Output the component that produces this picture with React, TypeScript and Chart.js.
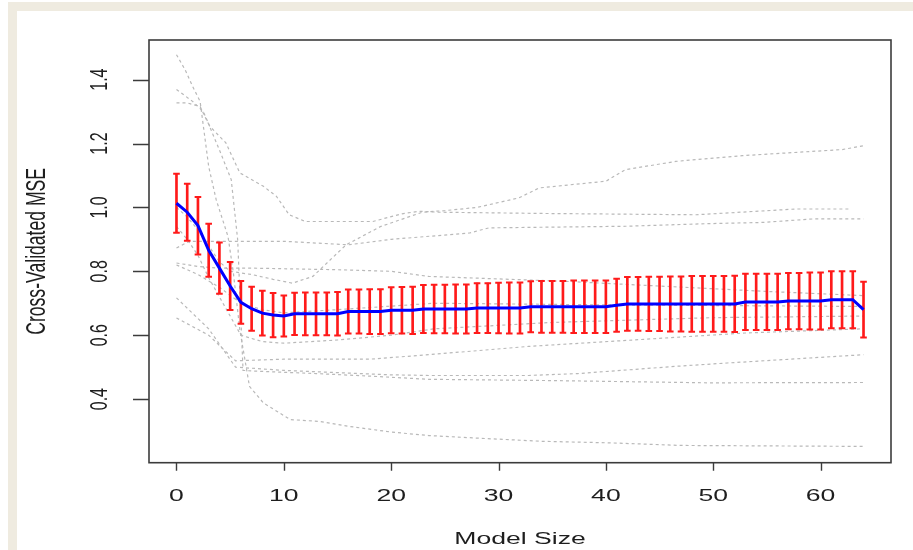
import React, { useEffect, useRef } from 'react';
import { Chart, registerables } from 'chart.js';

Chart.register(...registerables);

// Mean cross-validated MSE for model sizes 0..64
const MEAN_MSE = [
  1.013, 0.985, 0.943, 0.866, 0.81, 0.754, 0.703, 0.683, 0.669, 0.663,
  0.66, 0.667, 0.667, 0.667, 0.667, 0.667, 0.674, 0.674, 0.674, 0.674,
  0.678, 0.678, 0.678, 0.682, 0.682, 0.682, 0.682, 0.682, 0.685, 0.685,
  0.685, 0.685, 0.685, 0.689, 0.689, 0.689, 0.689, 0.689, 0.689, 0.689,
  0.689, 0.694, 0.698, 0.698, 0.698, 0.698, 0.698, 0.698, 0.698, 0.698,
  0.698, 0.698, 0.698, 0.704, 0.704, 0.704, 0.704, 0.707, 0.707, 0.707,
  0.707, 0.711, 0.711, 0.711, 0.68,
];

// Standard error of the mean (half-length of each error bar)
const STD_ERR = [
  0.092, 0.089, 0.09, 0.083, 0.08, 0.075, 0.067, 0.069, 0.07, 0.069,
  0.064, 0.066, 0.067, 0.067, 0.067, 0.068, 0.069, 0.069, 0.07, 0.07,
  0.072, 0.073, 0.074, 0.075, 0.076, 0.076, 0.077, 0.077, 0.078, 0.078,
  0.079, 0.08, 0.08, 0.08, 0.081, 0.081, 0.081, 0.082, 0.082, 0.082,
  0.082, 0.083, 0.084, 0.084, 0.085, 0.085, 0.086, 0.086, 0.087, 0.087,
  0.087, 0.087, 0.088, 0.088, 0.088, 0.088, 0.088, 0.088, 0.088, 0.089,
  0.089, 0.089, 0.089, 0.089, 0.087,
];

// Per-fold validation curves, as [model size, MSE] pairs
const FOLD_1 = [[0, 1.478], [0.8, 1.431], [1.5, 1.379], [2.2, 1.332], [3, 1.128], [3.7, 1.024], [4.8, 0.909], [5.3, 0.795], [5.9, 0.617], [6.8, 0.44], [8.1, 0.388], [10.6, 0.336], [13.4, 0.33], [16, 0.315], [20, 0.297], [23.5, 0.286], [28, 0.278], [34, 0.268], [40.5, 0.263], [47, 0.255], [64, 0.252]];
const FOLD_2 = [[0, 1.369], [1.5, 1.332], [2.5, 1.3], [3.1, 1.254], [4.6, 1.202], [5.9, 1.108], [8.1, 1.066], [9.3, 1.035], [10.5, 0.977], [12, 0.956], [18.3, 0.956], [21, 0.98], [22.6, 0.988], [24.4, 0.985], [34.4, 0.981], [48.4, 0.977], [57.7, 0.995], [62.8, 0.995]];
const FOLD_3 = [[0, 1.327], [1, 1.327], [2.2, 1.316], [3, 1.26], [4, 1.18], [5.1, 1.087], [5.7, 0.899], [6.2, 0.49], [7, 0.488], [13, 0.48], [18, 0.472], [23.5, 0.462], [35, 0.458], [49.5, 0.451], [64, 0.452]];
const FOLD_4 = [[0, 0.873], [1.2, 0.894], [10, 0.894], [16, 0.883], [20, 0.9], [24.4, 0.912], [27.3, 0.92], [29.1, 0.936], [41.8, 0.941], [49.3, 0.949], [54.6, 0.953], [59.3, 0.964], [64, 0.964]];
const FOLD_5 = [[0, 1.0], [1, 0.97], [2, 0.93], [3, 0.88], [4, 0.83], [5, 0.8], [7, 0.79], [9, 0.775], [10.8, 0.763], [12.7, 0.784], [15.8, 0.883], [19, 0.94], [22.9, 0.985], [25, 0.99], [28, 1.0], [31.9, 1.03], [33.8, 1.061], [40, 1.082], [41.8, 1.118], [46.5, 1.144], [52.7, 1.162], [62, 1.181], [64, 1.193]];
const FOLD_6 = [[0, 0.826], [2, 0.815], [4, 0.81], [7, 0.81], [15, 0.805], [20, 0.8], [23.5, 0.784], [36, 0.769], [45.5, 0.753], [55, 0.737], [64, 0.724]];
const FOLD_7 = [[0, 0.82], [2, 0.79], [4, 0.75], [6, 0.7], [8, 0.68], [10, 0.67], [15, 0.68], [24, 0.7], [40, 0.695], [64, 0.69]];
const FOLD_8 = [[0, 0.654], [3, 0.6], [5.5, 0.52], [10, 0.525], [18, 0.525], [23.5, 0.539], [32.8, 0.565], [43, 0.586], [53, 0.607], [64, 0.62]];
const FOLD_9 = [[0, 0.717], [3, 0.62], [5.5, 0.5], [10, 0.49], [20, 0.476], [23.5, 0.474], [32.8, 0.474], [37.4, 0.48], [46.7, 0.503], [51.3, 0.513], [64, 0.539]];
const FOLD_10 = [[0, 0.94], [1, 0.9], [2, 0.85], [3, 0.78], [4, 0.72], [5, 0.66], [6, 0.6], [8, 0.58], [10, 0.575], [15, 0.585], [20, 0.6], [24, 0.62], [35, 0.64], [50, 0.655], [64, 0.66]];

const FOLDS = [FOLD_1, FOLD_2, FOLD_3, FOLD_4, FOLD_5, FOLD_6, FOLD_7, FOLD_8, FOLD_9, FOLD_10];

const X_TICKS = [0, 10, 20, 30, 40, 50, 60];
const Y_TICKS = [0.4, 0.6, 0.8, 1.0, 1.2, 1.4];
const Y_TICK_LABELS = ['0.4', '0.6', '0.8', '1.0', '1.2', '1.4'];

const X_TITLE = 'Model Size';
const Y_TITLE = 'Cross-Validated MSE';

const FONT = '"Liberation Sans", Arial, sans-serif';

function stretchedText(
  ctx: CanvasRenderingContext2D,
  text: string,
  x: number,
  y: number,
  size: number,
  stretch: number,
  rotated: boolean,
) {
  ctx.save();
  ctx.translate(x, y);
  ctx.scale(stretch, 1);
  if (rotated) ctx.rotate(-Math.PI / 2);
  ctx.font = `${size}px ${FONT}`;
  ctx.fillStyle = '#1e1e1e';
  ctx.textAlign = 'center';
  ctx.textBaseline = 'middle';
  ctx.fillText(text, 0, 0);
  ctx.restore();
}

// R-style frame: box, outward ticks, rotated y labels
const baseAxesPlugin = {
  id: 'baseAxes',
  afterDraw(chart: any) {
    const { ctx, chartArea, scales } = chart;
    const { left, right, top, bottom } = chartArea;
    const xs = scales.x;
    const ys = scales.y;
    ctx.save();
    ctx.strokeStyle = '#3c3c3c';
    ctx.lineWidth = 1.6;
    ctx.strokeRect(left, top, right - left, bottom - top);

    ctx.lineWidth = 1.4;
    ctx.beginPath();
    X_TICKS.forEach((v) => {
      const px = Math.round(xs.getPixelForValue(v)) + 0.5;
      ctx.moveTo(px, bottom);
      ctx.lineTo(px, bottom + 8);
    });
    Y_TICKS.forEach((v) => {
      const py = Math.round(ys.getPixelForValue(v)) + 0.5;
      ctx.moveTo(left, py);
      ctx.lineTo(left - 16, py);
    });
    ctx.stroke();
    ctx.restore();

    X_TICKS.forEach((v) => {
      stretchedText(ctx, String(v), xs.getPixelForValue(v), bottom + 34, 16, 1.66, false);
    });
    Y_TICKS.forEach((v, i) => {
      stretchedText(ctx, Y_TICK_LABELS[i], left - 49, ys.getPixelForValue(v), 16, 1.5, true);
    });
    stretchedText(ctx, X_TITLE, (left + right) / 2, bottom + 77, 16, 1.66, false);
    stretchedText(ctx, Y_TITLE, 37, (top + bottom) / 2, 17.6, 1.6, true);
  },
};

export default function App() {
  const canvasRef = useRef<HTMLCanvasElement | null>(null);

  useEffect(() => {
    const canvas = canvasRef.current;
    if (!canvas) return;

    const sizes = MEAN_MSE.map((_, i) => i);

    const foldSets = FOLDS.map((fold, i) => ({
      type: 'line' as const,
      label: `fold ${i + 1}`,
      data: fold.map(([x, y]) => ({ x, y })),
      borderColor: '#b9b9b9',
      borderWidth: 1.2,
      borderDash: [3, 3],
      pointRadius: 0,
      tension: 0,
      order: 4,
    }));

    const chart = new Chart(canvas, {
      type: 'line',
      data: {
        datasets: [
          ...foldSets,
          {
            type: 'bar' as const,
            label: 'error bar',
            data: sizes.map((s) => ({ x: s, y: [MEAN_MSE[s] - STD_ERR[s], MEAN_MSE[s] + STD_ERR[s]] })) as any,
            backgroundColor: '#ff1a1a',
            borderWidth: 0,
            barThickness: 2,
            order: 2,
          },
          {
            type: 'line' as const,
            label: 'caps',
            data: [
              ...sizes.map((s) => ({ x: s, y: MEAN_MSE[s] - STD_ERR[s] })),
              ...sizes.map((s) => ({ x: s, y: MEAN_MSE[s] + STD_ERR[s] })),
            ],
            showLine: false,
            pointStyle: 'line',
            pointRadius: 3.3,
            pointBorderColor: '#ff1a1a',
            pointBorderWidth: 2,
            borderColor: '#ff1a1a',
            order: 1,
          },
          {
            type: 'line' as const,
            label: 'mean',
            data: sizes.map((s) => ({ x: s, y: MEAN_MSE[s] })),
            borderColor: '#0000ff',
            borderWidth: 3,
            pointRadius: 0,
            tension: 0,
            order: 0,
          },
        ],
      },
      options: {
        animation: false,
        responsive: false,
        events: [],
        layout: { padding: { left: 0, top: 40, right: 22, bottom: 0 } },
        plugins: { legend: { display: false }, tooltip: { enabled: false }, title: { display: false } },
        scales: {
          x: {
            type: 'linear',
            min: -2.56,
            max: 66.56,
            offset: false,
            grid: { display: false },
            border: { display: false },
            ticks: { display: false },
            afterFit: (s: any) => {
              s.height = 87.3;
            },
          },
          y: {
            type: 'linear',
            min: 0.201,
            max: 1.524,
            grid: { display: false },
            border: { display: false },
            ticks: { display: false },
            afterFit: (s: any) => {
              s.width = 149;
            },
          },
        },
      },
      plugins: [baseAxesPlugin],
    });

    return () => chart.destroy();
  }, []);

  return (
    <div style={{ position: 'absolute', left: 0, top: 0, width: 913, height: 550, background: '#ffffff', overflow: 'hidden' }}>
      <div style={{ position: 'absolute', left: 8, top: 2, width: 905, height: 9, background: '#efebe0' }} />
      <div style={{ position: 'absolute', left: 8, top: 2, width: 9, height: 548, background: '#efebe0' }} />
      <canvas ref={canvasRef} width={913} height={550} style={{ position: 'absolute', left: 0, top: 0, width: 913, height: 550 }} />
    </div>
  );
}
